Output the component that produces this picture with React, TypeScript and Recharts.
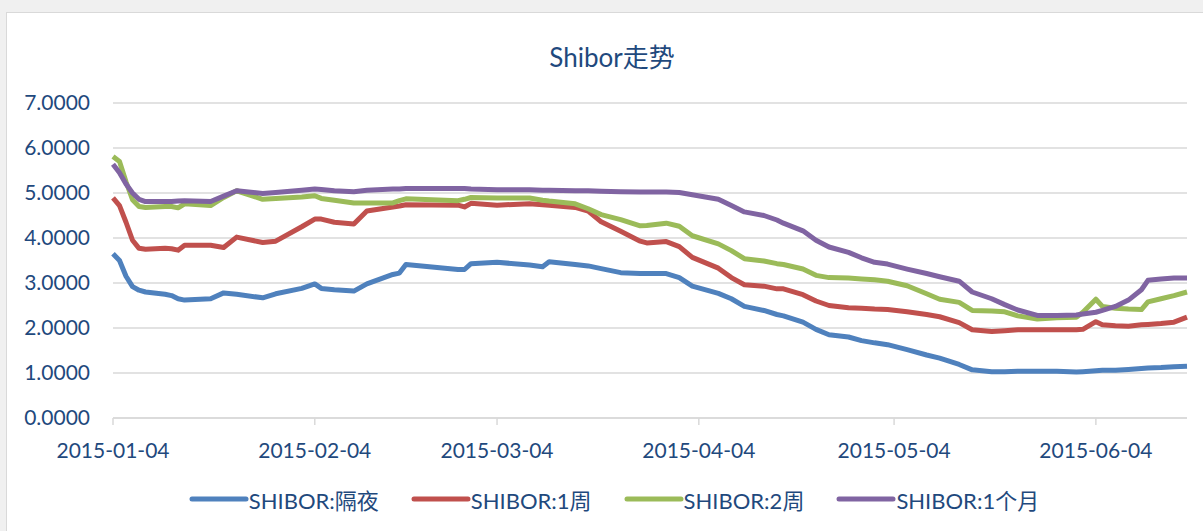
import React from "react";
import {
  LineChart,
  Line,
  XAxis,
  YAxis,
  CartesianGrid,
  Legend,
} from "recharts";

const dates = [
  "2015-01-04", "2015-01-05", "2015-01-06", "2015-01-07", "2015-01-08", "2015-01-09",
  "2015-01-12", "2015-01-13", "2015-01-14", "2015-01-15",
  "2015-01-19", "2015-01-21", "2015-01-23", "2015-01-27", "2015-01-29",
  "2015-02-02", "2015-02-04", "2015-02-05", "2015-02-07", "2015-02-10", "2015-02-12",
  "2015-02-16", "2015-02-17", "2015-02-18", "2015-02-26", "2015-02-27", "2015-02-28",
  "2015-03-04", "2015-03-09", "2015-03-11", "2015-03-12", "2015-03-16", "2015-03-18",
  "2015-03-20", "2015-03-23", "2015-03-26", "2015-03-27", "2015-03-30",
  "2015-04-01", "2015-04-03", "2015-04-07", "2015-04-09", "2015-04-11", "2015-04-14",
  "2015-04-16", "2015-04-17", "2015-04-20", "2015-04-22", "2015-04-24", "2015-04-27", "2015-04-29",
  "2015-05-01", "2015-05-03", "2015-05-06", "2015-05-09", "2015-05-11", "2015-05-14",
  "2015-05-16", "2015-05-19", "2015-05-21", "2015-05-23", "2015-05-26", "2015-05-29",
  "2015-06-01", "2015-06-02", "2015-06-04", "2015-06-05", "2015-06-07", "2015-06-09",
  "2015-06-11", "2015-06-12", "2015-06-14", "2015-06-16", "2015-06-18",
];

// SHIBOR:隔夜
const overnight = [
  3.65, 3.5, 3.15, 2.92, 2.84, 2.8, 2.75, 2.72, 2.65, 2.62, 2.65, 2.78, 2.75, 2.67, 2.76,
  2.88, 2.98, 2.88, 2.85, 2.82, 2.98, 3.19, 3.22, 3.41, 3.3, 3.3, 3.43,
  3.46, 3.4, 3.36, 3.47, 3.41, 3.38, 3.32, 3.23, 3.21, 3.21, 3.21,
  3.12, 2.93, 2.77, 2.65, 2.48, 2.39, 2.3, 2.27, 2.13, 1.97, 1.85, 1.8, 1.72,
  1.67, 1.63, 1.52, 1.4, 1.33, 1.19, 1.07, 1.03, 1.03, 1.04, 1.04, 1.04,
  1.02, 1.03, 1.05, 1.06, 1.06, 1.08, 1.1, 1.11, 1.12, 1.14, 1.15,
];

// SHIBOR:1周
const week1 = [
  4.89, 4.72, 4.35, 3.95, 3.77, 3.75, 3.77, 3.76, 3.73, 3.84, 3.84, 3.79, 4.02, 3.9, 3.93,
  4.25, 4.42, 4.42, 4.35, 4.31, 4.6, 4.69, 4.71, 4.74, 4.73, 4.69, 4.77,
  4.73, 4.76, 4.74, 4.73, 4.68, 4.6, 4.36, 4.15, 3.93, 3.89, 3.92,
  3.81, 3.57, 3.33, 3.12, 2.96, 2.93, 2.87, 2.87, 2.74, 2.6, 2.5, 2.45, 2.44,
  2.42, 2.41, 2.36, 2.3, 2.25, 2.12, 1.96, 1.92, 1.94, 1.96, 1.96, 1.96,
  1.96, 1.97, 2.14, 2.07, 2.05, 2.04, 2.07, 2.08, 2.1, 2.13, 2.24,
];

// SHIBOR:2周
const week2 = [
  5.81, 5.7, 5.25, 4.85, 4.7, 4.68, 4.7, 4.7, 4.67, 4.76, 4.72, 4.9, 5.05, 4.86, 4.88,
  4.91, 4.94, 4.88, 4.84, 4.78, 4.78, 4.78, 4.83, 4.87, 4.83, 4.86, 4.9,
  4.89, 4.89, 4.84, 4.82, 4.76, 4.65, 4.52, 4.41, 4.27, 4.28, 4.33,
  4.26, 4.05, 3.87, 3.72, 3.54, 3.49, 3.43, 3.41, 3.31, 3.17, 3.12, 3.11, 3.09,
  3.07, 3.04, 2.94, 2.76, 2.64, 2.57, 2.39, 2.38, 2.36, 2.27, 2.2, 2.23,
  2.24, 2.35, 2.64, 2.48, 2.44, 2.42, 2.41, 2.58, 2.65, 2.72, 2.8,
];

// SHIBOR:1个月
const month1 = [
  5.64, 5.45, 5.2, 5.0, 4.86, 4.81, 4.81, 4.81, 4.82, 4.83, 4.81, 4.93, 5.05, 4.99, 5.01,
  5.06, 5.09, 5.08, 5.05, 5.03, 5.06, 5.09, 5.09, 5.1, 5.1, 5.1, 5.09,
  5.07, 5.07, 5.06, 5.06, 5.05, 5.05, 5.04, 5.03, 5.02, 5.02, 5.02,
  5.01, 4.96, 4.86, 4.72, 4.58, 4.5, 4.4, 4.33, 4.16, 3.95, 3.8, 3.68, 3.56,
  3.46, 3.42, 3.31, 3.21, 3.14, 3.04, 2.8, 2.65, 2.52, 2.4, 2.28, 2.28,
  2.29, 2.31, 2.35, 2.39, 2.48, 2.62, 2.85, 3.06, 3.09, 3.11, 3.11,
];

const xTickLabels = [
  "2015-01-04", "2015-02-04", "2015-03-04", "2015-04-04", "2015-05-04", "2015-06-04",
];
const yTicks = [0, 1, 2, 3, 4, 5, 6, 7];

const series = [
  { key: "overnight", name: "SHIBOR:隔夜", color: "#4F81BD" },
  { key: "week1", name: "SHIBOR:1周", color: "#C0504D" },
  { key: "week2", name: "SHIBOR:2周", color: "#9BBB59" },
  { key: "month1", name: "SHIBOR:1个月", color: "#8064A2" },
];

const data = dates.map((d, i) => ({
  t: Date.parse(d),
  overnight: overnight[i],
  week1: week1[i],
  week2: week2[i],
  month1: month1[i],
}));

const xTicks = xTickLabels.map((d) => Date.parse(d));

const FONT = "Lato, 'Noto Sans CJK SC', sans-serif";
const TEXT = "#1F497D";

function LegendBox() {
  return (
    <div
      style={{
        display: "flex",
        justifyContent: "center",
        alignItems: "center",
        paddingLeft: 66,
        paddingTop: 3,
        fontFamily: FONT,
        fontSize: 22,
        color: TEXT,
      }}
    >
      {series.map((s) => (
        <div
          key={s.key}
          style={{ display: "flex", alignItems: "center", marginRight: 32 }}
        >
          <svg width={60} height={10}>
            <line
              x1={3}
              y1={5}
              x2={57}
              y2={5}
              stroke={s.color}
              strokeWidth={5}
              strokeLinecap="round"
            />
          </svg>
          <span>{s.name}</span>
        </div>
      ))}
    </div>
  );
}

export default function App() {
  return (
    <div
      style={{
        position: "absolute",
        left: 0,
        top: 0,
        width: 1203,
        height: 531,
        background: "#f0f0f0",
        overflow: "hidden",
      }}
    >
      <div
        style={{
          position: "absolute",
          left: 6,
          top: 12,
          width: 1197,
          height: 519,
          background: "#ffffff",
          borderLeft: "1px solid #d9d9d9",
          borderTop: "1px solid #d9d9d9",
        }}
      >
        <div
          style={{
            position: "absolute",
            left: 0,
            width: 1196,
            top: 24,
            textAlign: "center",
            paddingLeft: 14,
            boxSizing: "border-box",
            fontFamily: FONT,
            fontSize: 26,
            color: TEXT,
          }}
        >
          Shibor走势
        </div>
        <LineChart
          width={1196}
          height={518}
          data={data}
          margin={{ top: 90, right: 16, left: 0, bottom: 11 }}
          style={{ fontFamily: FONT }}
        >
          <CartesianGrid vertical={false} stroke="#d9d9d9" strokeWidth={1.5} />
          <XAxis
            dataKey="t"
            type="number"
            domain={["dataMin", "dataMax"]}
            ticks={xTicks}
            tickFormatter={(v: number) => new Date(v).toISOString().slice(0, 10)}
            stroke="#d9d9d9"
            strokeWidth={1.5}
            tickSize={7}
            tickMargin={18}
            height={62}
            interval={0}
            tick={{ fill: TEXT, fontSize: 21, fontFamily: FONT }}
          />
          <YAxis
            domain={[0, 7]}
            ticks={yTicks}
            tickFormatter={(v: number) => v.toFixed(4)}
            axisLine={false}
            tickLine={false}
            tickSize={0}
            tickMargin={23}
            width={106}
            tick={{ fill: TEXT, fontSize: 21, fontFamily: FONT }}
          />
          <Legend
            verticalAlign="bottom"
            height={40}
            content={() => <LegendBox />}
          />
          {series.map((s) => (
            <Line
              key={s.key}
              dataKey={s.key}
              name={s.name}
              type="linear"
              stroke={s.color}
              strokeWidth={5}
              strokeLinejoin="round"
              dot={false}
              activeDot={false}
              isAnimationActive={false}
            />
          ))}
        </LineChart>
      </div>
    </div>
  );
}
